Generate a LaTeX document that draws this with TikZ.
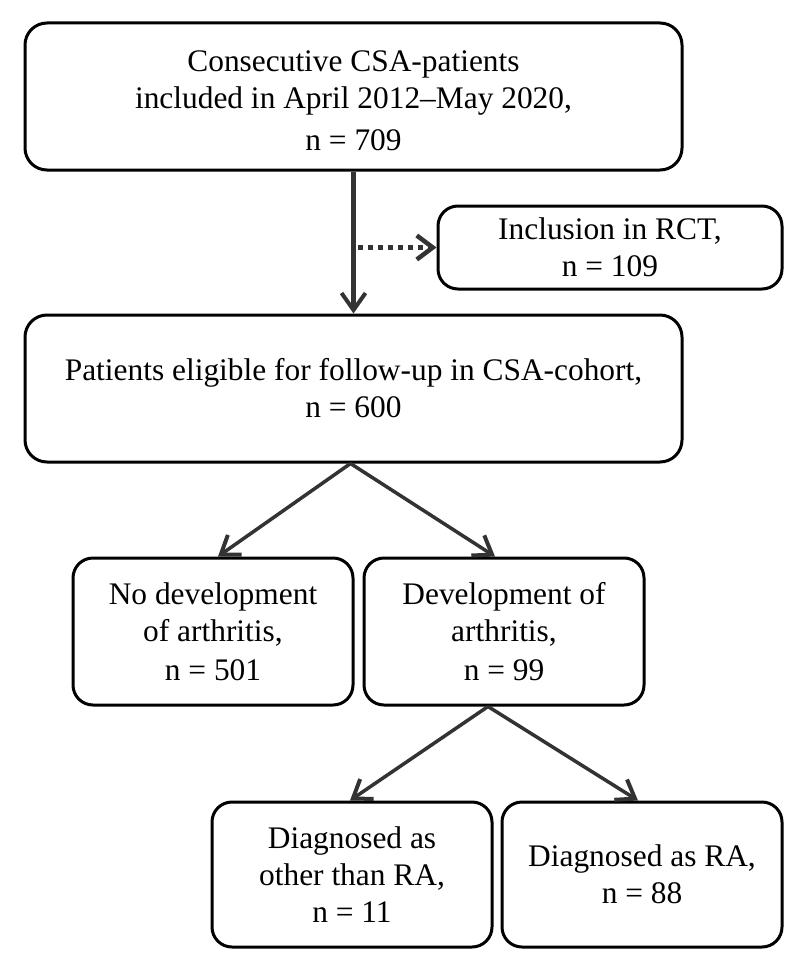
\documentclass[tikz,border=0pt]{standalone}
\usepackage{fontspec}
\setmainfont{Liberation Serif}
\usetikzlibrary{arrows.meta}
\definecolor{arrowgray}{HTML}{333333}
\begin{document}
\begin{tikzpicture}[x=1pt,y=-1pt,
  box/.style={draw=black,line width=3pt,rounded corners=22pt,inner sep=0pt,
    align=center,font=\fontsize{31.4}{37}\selectfont,fill=white},
  conn/.style={draw=arrowgray,line width=3.5pt,
    -{Straight Barb[length=17pt,width=24pt,line width=4pt]}},
  dotconn/.style={draw=arrowgray,line width=5pt,dash pattern=on 5pt off 5pt,
    -{Straight Barb[length=16pt,width=24pt,line width=4.5pt]}}]
\useasboundingbox (0,0) rectangle (800,971);
\node[box,minimum width=657pt,minimum height=147pt] (b1) at (353.5,96.5)
  {\rule{0pt}{29pt}Consecutive CSA-patients\\included in April 2012--May 2020,\\[5pt]n = 709};
\node[box,minimum width=344pt,minimum height=83pt,rounded corners=20pt] (rct) at (610,247.5)
  {Inclusion in RCT,\\n = 109};
\node[box,minimum width=657pt,minimum height=147pt] (b2) at (353.5,388.5)
  {Patients eligible for follow-up in CSA-cohort,\\n = 600};
\node[box,minimum width=280pt,minimum height=147pt,rounded corners=20pt] (b3) at (213,631.5)
  {No development\\of arthritis,\\[2pt]n = 501};
\node[box,minimum width=280pt,minimum height=147pt,rounded corners=20pt] (b4) at (504,631.5)
  {Development of\\arthritis,\\[2pt]n = 99};
\node[box,minimum width=280pt,minimum height=145pt,rounded corners=20pt] (b5) at (352,874.5)
  {Diagnosed as\\other than RA,\\n = 11};
\node[box,minimum width=280pt,minimum height=145pt,rounded corners=20pt] (b6) at (642,874.5)
  {Diagnosed as RA,\\n = 88};
\coordinate (d0) at (358,247.5);
\draw[conn,line width=4.5pt] (b1.south) -- (b2.north);
\draw[dotconn] (d0) -- (rct.west);
\draw[conn] ([xshift=-3pt]b2.south) -- ([xshift=5pt]b3.north);
\draw[conn] ([xshift=-3pt]b2.south) -- ([xshift=-9pt]b4.north);
\draw[conn] ([xshift=-16pt]b4.south) -- ([xshift=-2pt]b5.north);
\draw[conn] ([xshift=-16pt]b4.south) -- ([xshift=-4pt]b6.north);
\end{tikzpicture}
\end{document}
